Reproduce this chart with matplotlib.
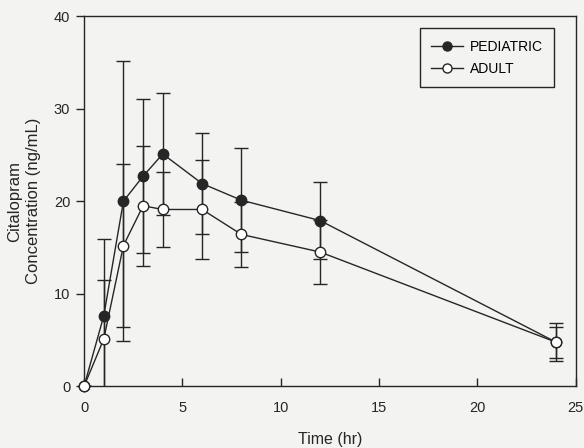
import numpy as np
import matplotlib.pyplot as plt

plt.rcParams["font.family"] = ["Liberation Sans", "DejaVu Sans"]

# sampling times (hr)
time_hr = [0, 1, 2, 3, 4, 6, 8, 12, 24]

# mean concentration and SD (ng/mL)
pediatric = [0, 7.6, 20.0, 22.7, 25.1, 21.9, 20.1, 17.9, 4.75]
pediatric_sd = [0, 8.3, 15.1, 8.3, 6.6, 5.5, 5.6, 4.2, 2.05]
adult = [0, 5.1, 15.2, 19.5, 19.1, 19.1, 16.4, 14.5, 4.75]
adult_sd = [0, 6.4, 8.8, 6.5, 4.1, 5.4, 3.5, 3.5, 1.7]

ink = "#262626"
paper = "#f3f3f1"

fig = plt.figure(figsize=(5.84, 4.48), dpi=100)
fig.patch.set_facecolor(paper)
ax = fig.add_axes([0.144, 0.138, 0.842, 0.826])
ax.set_facecolor(paper)

# error bars first (clipped at the axes)
ax.errorbar(time_hr, pediatric, yerr=pediatric_sd, fmt="none", ecolor=ink,
            elinewidth=1.0, capsize=5, capthick=1.0, zorder=2)
ax.errorbar(time_hr, adult, yerr=adult_sd, fmt="none", ecolor=ink,
            elinewidth=1.0, capsize=5, capthick=1.0, zorder=2)

# lines with markers
ax.plot(time_hr, pediatric, color=ink, lw=1.0, marker="o", ms=7.5,
        mfc=ink, mec=ink, label="PEDIATRIC", clip_on=False, zorder=3)
ax.plot(time_hr, adult, color=ink, lw=1.0, marker="o", ms=7.5,
        mfc="white", mec=ink, mew=1.0, label="ADULT", clip_on=False, zorder=4)

ax.set_xlim(0, 25)
ax.set_ylim(0, 40)
ax.set_xticks([0, 5, 10, 15, 20, 25])
ax.set_yticks([0, 10, 20, 30, 40])
ax.tick_params(axis="x", direction="in", length=6, width=1, colors=ink,
               labelsize=10.5, pad=11)
ax.tick_params(axis="y", direction="out", length=6, width=1, colors=ink,
               labelsize=10.5, pad=4)
for s in ax.spines.values():
    s.set_color(ink)
    s.set_linewidth(1.0)

ax.set_xlabel("Time (hr)", fontsize=11.5, color=ink, labelpad=12)
ax.set_ylabel("Citalopram\nConcentration (ng/mL)", fontsize=12, color=ink,
              labelpad=9, linespacing=1.35)

leg = ax.legend(loc="upper right", bbox_to_anchor=(0.965, 0.978), fontsize=10,
                frameon=True, fancybox=False, handlelength=2.3,
                borderpad=0.8, labelspacing=0.6, handletextpad=0.55,
                borderaxespad=0.3)
leg.get_frame().set_edgecolor(ink)
leg.get_frame().set_facecolor(paper)
leg.get_frame().set_linewidth(1.0)
leg.get_frame().set_alpha(1)
for h in leg.legend_handles:
    h.set_markersize(6.5)

plt.savefig("out.png", dpi=100, facecolor=fig.get_facecolor())
